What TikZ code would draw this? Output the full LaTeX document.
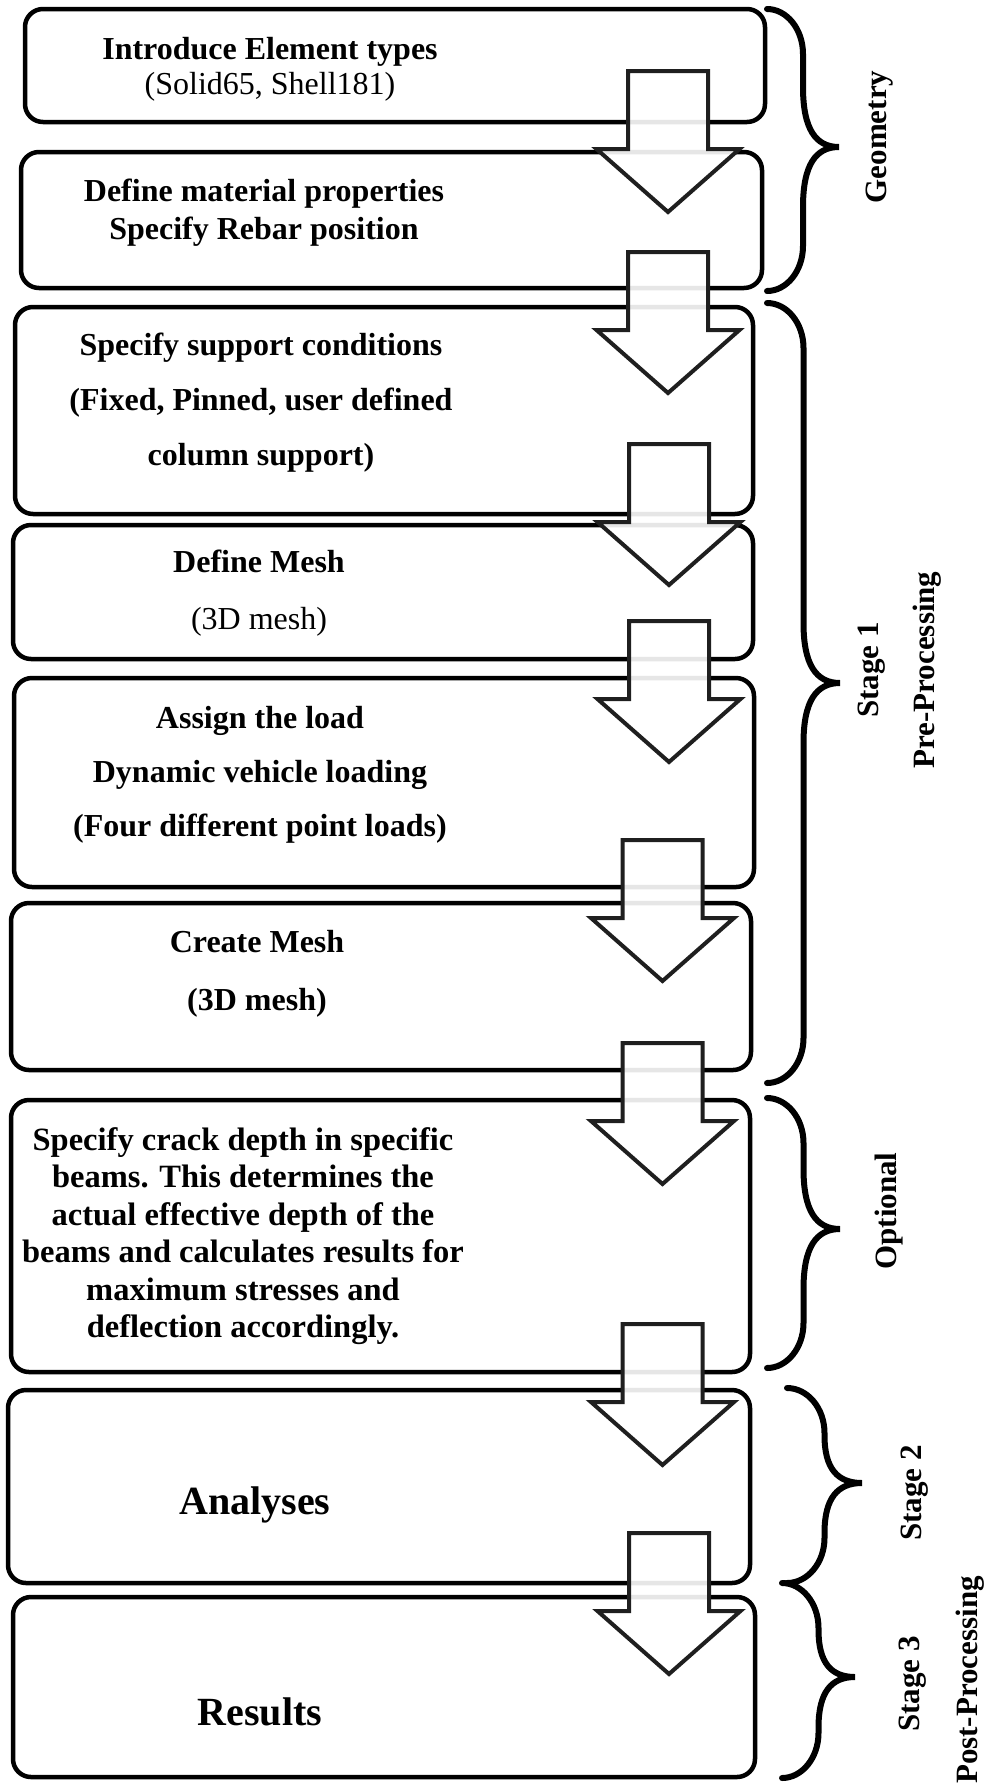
\documentclass[tikz,border=0pt]{standalone}
\usepackage{fontspec}
\setmainfont{Liberation Serif}
\tikzset{
  x=1pt, y=-1pt,
  box/.style={draw=black, line width=4.5pt, rounded corners=18pt, inner sep=0pt, fill=none},
  btext/.style={align=center, inner sep=0pt},
  sidelabel/.style={rotate=90, inner sep=0pt, font=\bfseries\fontsize{31}{36}\selectfont},
  bracestyle/.style={draw=black, line width=6pt, line cap=round},
  barrow/.pic={
    \draw[draw=black!88, line width=4pt, fill=white, fill opacity=0.9, miter limit=10]
      (-40,0) -- (-40,78) -- (-71.5,78) -- (0,141) -- (71.5,78) -- (40,78) -- (40,0) -- cycle;
  }
}
\newcommand{\curlyb}[5]{%
  \pgfmathsetmacro\xm{#1+0.5*(#4-#1)}%
  \pgfmathsetmacro\xa{#1+0.55*(\xm-#1)}%
  \pgfmathsetmacro\xb{\xm+0.35*(#4-\xm)}%
  \pgfmathsetmacro\la{min(45,(#5-#2)/2)}%
  \pgfmathsetmacro\lb{min(60,(#5-#2)/2)}%
  \pgfmathsetmacro\lc{min(45,(#3-#5)/2)}%
  \pgfmathsetmacro\ld{min(60,(#3-#5)/2)}%
  \draw[bracestyle] (#1,#2) .. controls (\xa,#2) and (\xm,#2+0.45*\la) .. (\xm,#2+\la)
    -- (\xm,#5-\lb) .. controls (\xm,#5-0.3*\lb) and (\xb,#5) .. (#4,#5)
    .. controls (\xb,#5) and (\xm,#5+0.3*\ld) .. (\xm,#5+\ld)
    -- (\xm,#3-\lc) .. controls (\xm,#3-0.45*\lc) and (\xa,#3) .. (#1,#3);
}
\begin{document}
\begin{tikzpicture}
\useasboundingbox (0,0) rectangle (989,1789);
% boxes
\node[box, minimum width=740pt, minimum height=113pt] (b1) at (395,65.5) {};
\node[box, minimum width=741pt, minimum height=136pt] (b2) at (391.5,220) {};
\node[box, minimum width=738pt, minimum height=207pt] (b3) at (384,410.5) {};
\node[box, minimum width=740pt, minimum height=134pt] (b4) at (383,592) {};
\node[box, minimum width=740pt, minimum height=209pt] (b5) at (384,782.5) {};
\node[box, minimum width=740pt, minimum height=167pt] (b6) at (381,986.5) {};
\node[box, minimum width=739pt, minimum height=272pt] (b7) at (380.5,1236) {};
\node[box, minimum width=742pt, minimum height=193pt] (b8) at (379,1486.5) {};
\node[box, minimum width=742pt, minimum height=180pt] (b9) at (384,1687) {};
% texts
\node[btext, font=\bfseries\fontsize{32}{35}\selectfont] (t1) at (270,69) {Introduce Element types\\ \textmd{(Solid65, Shell181)}};
\node[btext, font=\bfseries\fontsize{32}{38}\selectfont] (t2) at (264,213) {Define material properties\\ Specify Rebar position};
\node[btext, font=\bfseries\fontsize{32}{55}\selectfont] (t3) at (261,403) {Specify support conditions\\ (Fixed, Pinned, user defined\\ column support)};
\node[btext, font=\bfseries\fontsize{32}{57}\selectfont] (t4) at (259,593) {Define Mesh\\ \textmd{(3D mesh)}};
\node[btext, font=\bfseries\fontsize{32}{54}\selectfont] (t5) at (260,775) {Assign the load\\ Dynamic vehicle loading\\ (Four different point loads)};
\node[btext, font=\bfseries\fontsize{32}{58}\selectfont] (t6) at (257,974) {Create Mesh\\ (3D mesh)};
\node[btext, font=\bfseries\fontsize{32.5}{37.5}\selectfont] (t7) at (243,1236) {Specify crack depth in specific\\ beams. This determines the\\ actual effective depth of the\\ beams and calculates results for\\ maximum stresses and\\ deflection accordingly.};
\node[btext, font=\bfseries\fontsize{40}{46}\selectfont] (t8) at (255,1505) {Analyses};
\node[btext, font=\bfseries\fontsize{40}{46}\selectfont] (t9) at (260,1712) {Results};
% block arrows
\pic (a1) at (668,71) {barrow};
\pic (a2) at (668,252) {barrow};
\pic (a3) at (669,444) {barrow};
\pic (a4) at (669,621) {barrow};
\pic (a5) at (662.5,840) {barrow};
\pic (a6) at (662.5,1043) {barrow};
\pic (a7) at (662.5,1324) {barrow};
\pic (a8) at (669,1533) {barrow};
% braces
\curlyb{767}{9}{291}{839}{147}
\curlyb{767}{303}{1083}{840}{683}
\curlyb{767}{1098}{1368}{840}{1229}
\curlyb{787}{1388}{1583}{862}{1483}
\curlyb{782}{1583}{1778}{855}{1677}
% side labels
\node[sidelabel] (lgeo) at (880,137) {Geometry};
\node[sidelabel] (ls1) at (872,670) {Stage 1};
\node[sidelabel] (lpre) at (927,670) {Pre-Processing};
\node[sidelabel] (lopt) at (889,1211) {Optional};
\node[sidelabel] (ls2) at (915,1493) {Stage 2};
\node[sidelabel] (ls3) at (913,1684) {Stage 3};
\node[sidelabel] (lpost) at (970,1680) {Post-Processing};
\end{tikzpicture}
\end{document}
